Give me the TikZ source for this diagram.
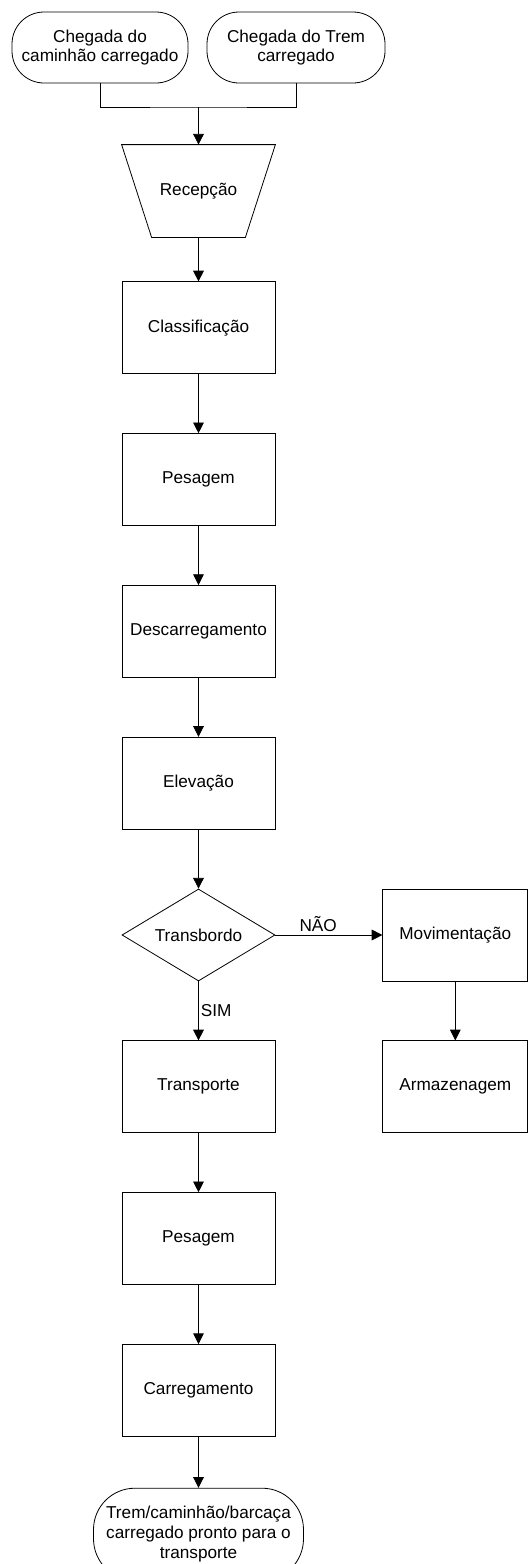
\documentclass[tikz,border=0pt]{standalone}
\usepackage{fontspec}
\setmainfont{Liberation Sans}
\usetikzlibrary{positioning, arrows.meta, shapes.geometric}

\begin{document}
\begin{tikzpicture}[x=0.75pt, y=-0.75pt, font=\fontsize{12.9}{14.8}\selectfont,
  >={Triangle[length=8pt,width=8pt]}, line width=0.6pt, node distance=44.25pt,
  base/.style={draw, align=center, inner sep=0pt},
  proc/.style={base, minimum width=114.75pt, minimum height=69pt},
  term/.style={base, rounded corners=24pt, minimum height=53.25pt},
  decis/.style={base, diamond, aspect=1.66, minimum width=114.75pt, minimum height=69pt}]
  \useasboundingbox (0,0) rectangle (528,1564);
  % arrivals (top row)
  \node[term, minimum width=132pt]   (camin) at (100,47.5) {Chegada do\\ caminhão carregado};
  \node[term, minimum width=133.5pt] (trem)  at (296,47.5) {Chegada do Trem\\ carregado};
  \coordinate (junc) at (198.5,107);
  % main column
  \node[proc, draw=none] (rec) at (198.5,191) {Recepção};
  \draw (rec.north west) -- (rec.north east) -- ([xshift=-22.5pt]rec.south east)
        -- ([xshift=22.5pt]rec.south west) -- cycle;
  \node[proc, below=33pt of rec] (cls)  {Classificação};
  \node[proc, below=of cls]      (pes1) {Pesagem};
  \node[proc, below=of pes1]     (desc) {Descarregamento};
  \node[proc, below=of desc]     (elev) {Elevação};
  \node[decis, below=of elev]    (trans) {Transbordo};
  \node[proc, below=of trans]    (transp) {Transporte};
  \node[proc, below=of transp]   (pes2) {Pesagem};
  \node[proc, below=of pes2]     (carr) {Carregamento};
  \node[term, rounded corners=31pt, minimum width=157.5pt, minimum height=69pt,
        below=38.25pt of carr] (fim) {Trem/caminhão/barcaça\\ carregado pronto para o\\ transporte};
  % storage branch
  \node[proc, minimum width=108.75pt, right=80.25pt of trans] (mov) {Movimentação};
  \node[proc, minimum width=108.75pt, below=of mov] (arm) {Armazenagem};
  % edges
  \draw (camin.south) |- (junc) -| (trem.south);
  \draw[->] (junc) -- (rec);
  \draw[->] (rec) -- (cls);
  \draw[->] (cls) -- (pes1);
  \draw[->] (pes1) -- (desc);
  \draw[->] (desc) -- (elev);
  \draw[->] (elev) -- (trans);
  \draw[->] (trans) -- node[right, inner sep=1.5pt]{SIM} (transp);
  \draw[->] (trans) -- node[above, pos=0.4, inner sep=2pt]{NÃO} (mov);
  \draw[->] (mov) -- (arm);
  \draw[->] (transp) -- (pes2);
  \draw[->] (pes2) -- (carr);
  \draw[->] (carr) -- (fim);
\end{tikzpicture}
\end{document}
